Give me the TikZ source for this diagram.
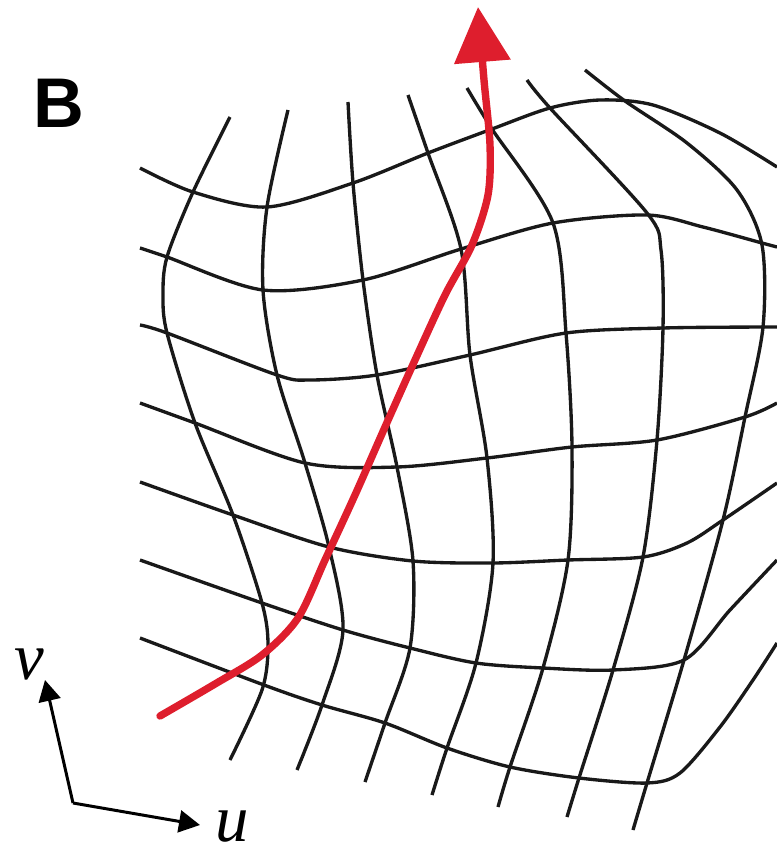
\documentclass[tikz,border=0pt]{standalone}
\usepackage{fontspec}
\setmainfont{Liberation Serif}
\newfontfamily\panelfont{Liberation Sans}
\usepackage{xcolor}
\usepackage{tikz}
\usetikzlibrary{arrows.meta}
\definecolor{flowred}{RGB}{222,30,45}
\definecolor{meshgray}{RGB}{25,25,25}

\begin{document}
\begin{tikzpicture}[
  x=0.01cm, y=-0.01cm,
  % ── grid lines of the deformed mesh ──────────────────────────────────────
  mesh/.style={
    draw=meshgray, line width=0.95pt, line join=round
  },
  % red flow path with a big triangular head
  flow/.style={
    draw=flowred, line width=2.1pt, line cap=round,
    -{Triangle[length=0.55cm, width=0.55cm]}
  },
  % small coordinate axes
  axis/.style={
    draw=black, line width=0.85pt,
    -{Triangle[length=0.21cm, width=0.22cm]}
  },
  axlabel/.style={font=\fontsize{19}{22}\selectfont\itshape, inner sep=0pt},
]

\useasboundingbox (0,0) rectangle (777,854);

% ── Panel letter ────────────────────────────────────────────────────────────
\node[font=\fontsize{20}{24}\selectfont\panelfont\bfseries, inner sep=0pt]
  (panel) at (59,103) {B};

% ── u = const lines (top to bottom) ─────────────────────────────────────────
\draw[mesh] plot[smooth] coordinates {(230,117) (193,192) (167,257) (163,295) (167,333) (195,423) (233,515) (262,603) (268,645) (262,690) (230,760)};
\draw[mesh] plot[smooth] coordinates {(288,110) (267,207) (263,290) (277,375) (305,463) (329,547) (343,630) (322,705) (297,770)};
\draw[mesh] plot[smooth] coordinates {(348,102) (353,183) (363,280) (377,375) (397,467) (413,561) (410,648) (385,723) (365,782)};
\draw[mesh] plot[smooth] coordinates {(408,95) (428,153) (461,249) (470,355) (487,458) (493,563) (476,663) (447,748) (432,795)};
\draw[mesh] plot[smooth] coordinates {(467,88) (492,129) (553,223) (566,333) (572,447) (568,560) (543,668) (510,767) (498,807)};
\draw[mesh] plot[smooth] coordinates {(527,80) (550,108) (647,213) (661,250) (663,328) (657,440) (643,557) (613,670) (579,778) (567,817)};
\draw[mesh] plot[smooth] coordinates {(585,70) (625,101) (687,143) (737,190) (762,245) (763,327) (745,417) (723,520) (684,660) (647,783) (633,830)};

% ── v = const lines (left to right) ─────────────────────────────────────────
\draw[mesh] plot[smooth] coordinates {(140,168) (193,192) (267,207) (353,183) (428,153) (492,129) (550,108) (600,100) (653,105) (720,133) (777,167)};
\draw[mesh] plot[smooth] coordinates {(140,248) (167,257) (263,290) (363,280) (461,249) (553,223) (647,215) (703,227) (762,243) (777,247)};
\draw[mesh] plot[smooth] coordinates {(140,325) (167,333) (277,375) (310,380) (377,375) (470,355) (566,333) (663,328) (762,327) (777,327)};
\draw[mesh] plot[smooth] coordinates {(140,403) (195,423) (305,463) (397,467) (487,458) (572,447) (657,440) (745,417) (777,403)};
\draw[mesh] plot[smooth] coordinates {(140,482) (233,515) (329,547) (413,561) (493,563) (568,560) (643,557) (687,543) (723,520) (777,483)};
\draw[mesh] plot[smooth] coordinates {(140,560) (262,603) (343,630) (410,648) (476,663) (543,668) (613,670) (684,660) (730,610) (777,560)};
\draw[mesh] plot[smooth] coordinates {(140,638) (264,685) (322,705) (385,723) (447,748) (510,767) (579,778) (647,783) (680,773) (720,727) (753,680) (777,643)};

% ── Flow path ───────────────────────────────────────────────────────────────
\draw[flow] plot[smooth] coordinates {(160,716) (215,684) (262,655) (298,618) (325,560) (355,495) (385,427) (415,360) (445,295) (472,245) (488,195) (490,145) (484,80) (478,7)};

% ── Axes ────────────────────────────────────────────────────────────────────
\coordinate (origin) at (73,803);
\coordinate (vtip)   at (45,680);
\coordinate (utip)   at (200,825);
\draw[axis] (origin) -- (vtip);
\draw[axis] (origin) -- (utip);
\node[axlabel] (vlabel) at (29,664) {v};
\node[axlabel] (ulabel) at (232,827) {u};

\end{tikzpicture}
\end{document}
